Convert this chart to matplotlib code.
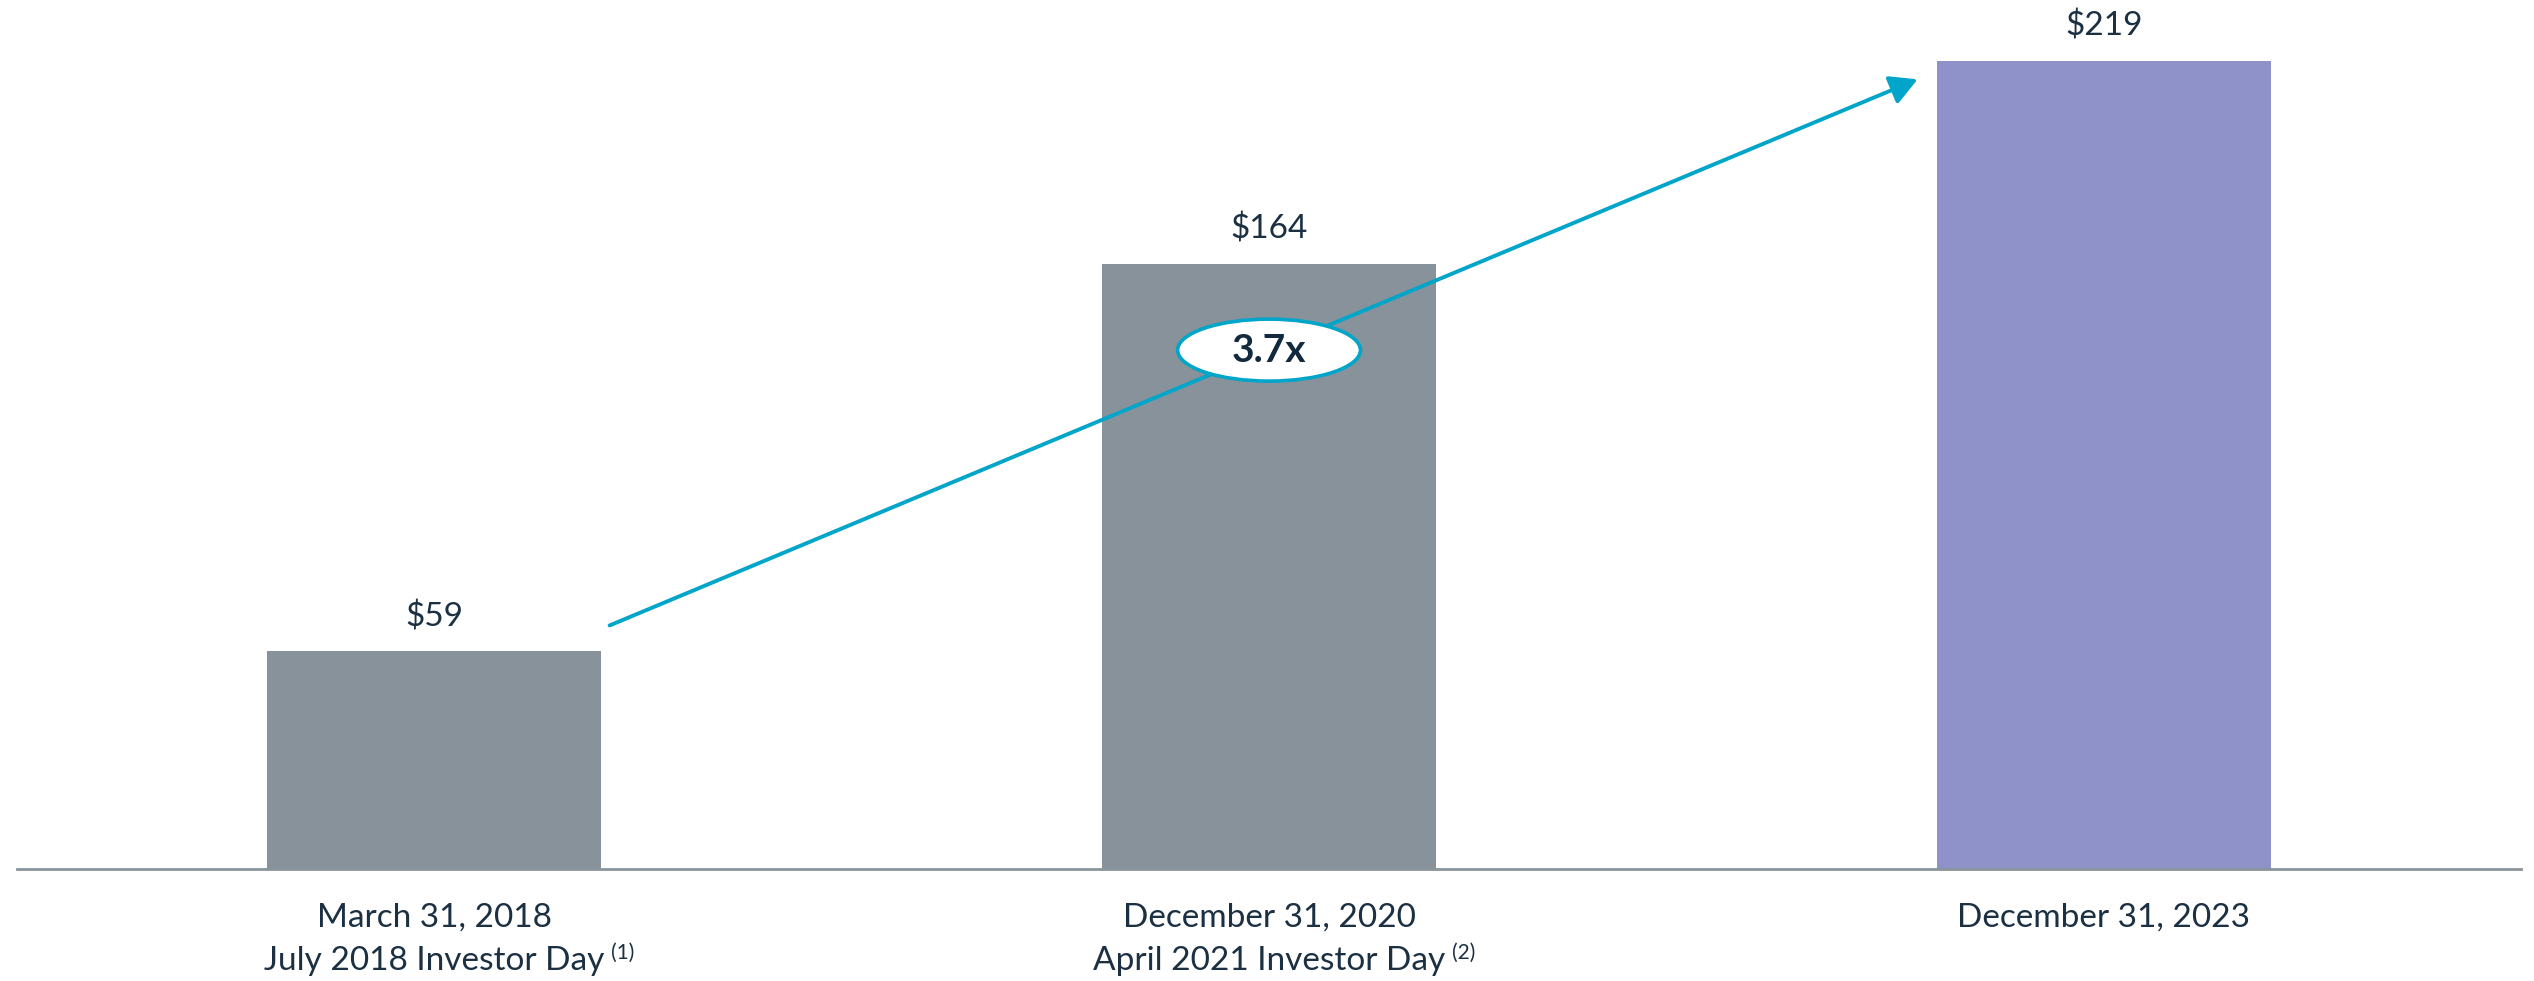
import matplotlib.pyplot as plt
from matplotlib.patches import Ellipse

# data
dates = ["March 31, 2018", "December 31, 2020", "December 31, 2023"]
sources = ["July 2018 Investor Day", "April 2021 Investor Day", ""]
notes = ["(1)", "(2)", ""]
values = [59, 164, 219]
colors = ["#87929a", "#87929a", "#8f92c9"]
growth = "3.7x"

plt.rcParams['font.family'] = ['Lato', 'DejaVu Sans']
txt = '#1b3042'
cyan = '#00a5c9'

fig = plt.figure(figsize=(25.34, 9.81), dpi=100)
ax = fig.add_axes([0.0067, 0.1142, 0.9882, 0.8858])

x = list(range(len(values)))
w = 0.4
ax.bar(x, values, width=w, color=colors, zorder=2)
ax.set_xlim(-0.5, 2.5)
ax.set_ylim(0, 235.5)
for s in ['top', 'right', 'left']:
    ax.spines[s].set_visible(False)
ax.spines['bottom'].set_color('#8a949b')
ax.spines['bottom'].set_linewidth(2)
ax.set_xticks([])
ax.set_yticks([])

# labels above bars and category labels below
for i, v in enumerate(values):
    ax.annotate(f"${v}", (i, v), xytext=(0, 25), textcoords='offset points',
                ha='center', va='center', fontsize=24, color=txt)
    ax.annotate(dates[i], (i, 0), xytext=(0, -35), textcoords='offset points',
                ha='center', va='center', fontsize=24, color=txt, annotation_clip=False)
    if sources[i]:
        t = ax.annotate(sources[i], (i, 0), xytext=(0, -66), textcoords='offset points',
                        ha='center', va='center', fontsize=24, color=txt, annotation_clip=False)
        ax.annotate(notes[i], xy=(1, 1), xycoords=t, xytext=(5, 2), textcoords='offset points',
                    ha='left', va='top', fontsize=15, color=txt)

# growth arrow from first bar to last bar
x0, y0 = x[0] + w / 2 + 0.01, values[0] + 7
x1, y1 = x[2] - w / 2 - 0.023, values[2] - 5
ax.annotate('', xy=(x1, y1), xytext=(x0, y0),
            arrowprops=dict(arrowstyle='-|>,head_length=0.55,head_width=0.3',
                            mutation_scale=30, color=cyan, lw=2.8,
                            shrinkA=0, shrinkB=0), zorder=3)

# ellipse badge on the arrow at the middle bar
cy = y0 + (x[1] - x0) * (y1 - y0) / (x1 - x0)
ax.add_patch(Ellipse((x[1], cy), 0.219, 16.8, facecolor='white', edgecolor=cyan,
                     lw=2.6, zorder=4))
ax.text(x[1], cy, growth, ha='center', va='center', fontsize=28, fontweight='bold',
        color='#13293d', zorder=5)

fig.savefig('out.png', dpi=100)
